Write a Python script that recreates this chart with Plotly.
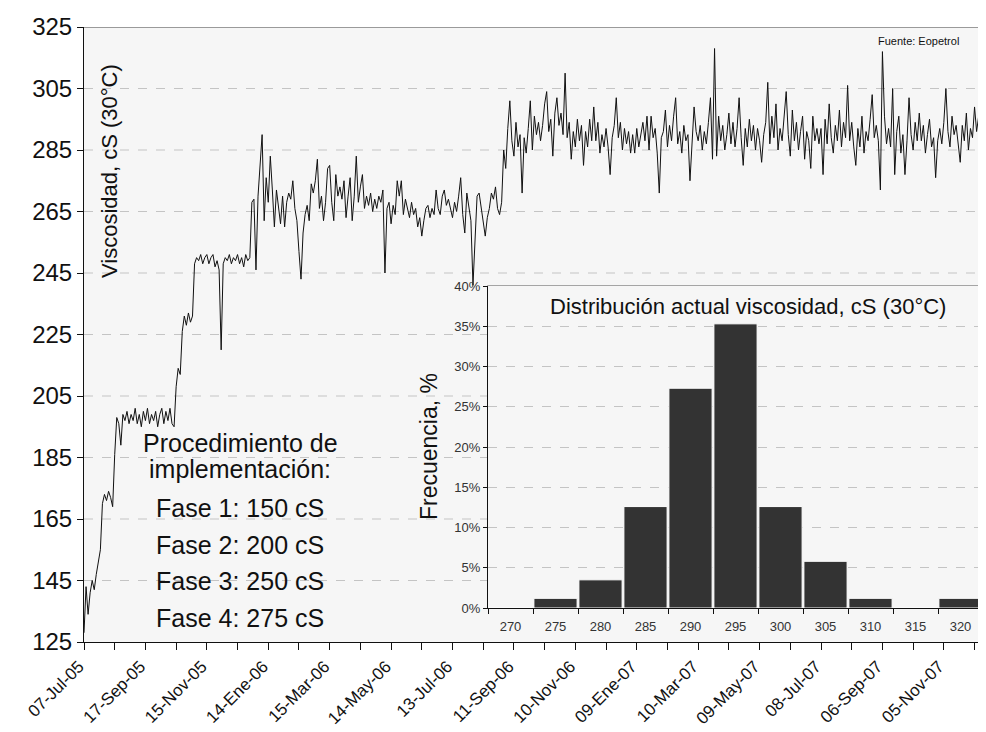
import plotly.graph_objects as go

# ---------------- data ----------------
step = 2  # one reading every 2 days (category positions)
viscosity = [
    128, 143, 134, 141, 145, 142, 147, 151, 155, 170, 173, 171, 174, 172, 169, 186, 198, 196, 189, 199,
    197, 200, 196, 199, 197, 201, 196, 199, 195, 200, 197, 201, 196, 199, 197, 200, 195, 199, 201, 196,
    200, 197, 201, 196, 195, 208, 214, 212, 226, 231, 228, 232, 229, 231, 248, 250, 249, 251, 248, 250,
    251, 248, 250, 251, 247, 249, 246, 220, 248, 250, 249, 251, 248, 250, 249, 251, 248, 250, 247, 251,
    249, 250, 268, 269, 246, 270, 281, 290, 262, 276, 268, 283, 272, 260, 272, 266, 261, 270, 260, 268,
    271, 269, 275, 266, 262, 252, 243, 258, 264, 267, 262, 274, 271, 275, 282, 266, 270, 262, 268, 279,
    280, 268, 262, 277, 270, 273, 269, 275, 263, 270, 276, 262, 270, 283, 268, 273, 277, 266, 270, 267,
    271, 265, 269, 266, 270, 268, 272, 245, 266, 268, 261, 267, 264, 275, 270, 275, 264, 269, 266, 263,
    268, 264, 266, 260, 263, 257, 262, 266, 267, 263, 266, 264, 272, 266, 264, 270, 272, 267, 269, 266,
    263, 268, 265, 270, 276, 264, 258, 271, 266, 262, 241, 258, 270, 271, 266, 262, 257, 263, 266, 271,
    269, 273, 266, 264, 268, 285, 279, 292, 301, 288, 283, 294, 286, 290, 271, 289, 284, 292, 301, 285,
    296, 290, 294, 288, 293, 300, 304, 291, 295, 283, 297, 302, 293, 297, 290, 310, 289, 294, 282, 291,
    286, 295, 288, 293, 280, 291, 286, 295, 288, 299, 288, 294, 284, 290, 286, 292, 286, 277, 289, 293,
    302, 289, 294, 285, 292, 287, 291, 284, 290, 284, 292, 286, 290, 294, 288, 296, 285, 296, 289, 292,
    284, 271, 289, 291, 298, 286, 293, 288, 296, 302, 287, 291, 284, 293, 288, 290, 275, 286, 299, 291,
    288, 293, 285, 291, 287, 294, 302, 282, 318, 283, 296, 288, 293, 285, 290, 297, 287, 294, 286, 292,
    302, 289, 280, 292, 286, 295, 288, 293, 285, 292, 288, 281, 290, 294, 307, 287, 296, 289, 300, 285,
    292, 288, 297, 304, 290, 283, 298, 288, 294, 285, 291, 296, 282, 291, 288, 279, 296, 288, 292, 287,
    292, 277, 295, 287, 300, 289, 284, 293, 288, 298, 286, 294, 289, 306, 288, 294, 286, 280, 292, 286,
    296, 284, 291, 288, 295, 303, 289, 293, 288, 272, 317, 296, 287, 292, 286, 305, 277, 291, 296, 284,
    290, 277, 288, 302, 290, 285, 294, 288, 297, 288, 293, 284, 290, 295, 286, 289, 276, 288, 292, 287,
    294, 305, 291, 286, 296, 290, 293, 286, 281, 293, 288, 297, 285, 292, 289, 299, 291, 296, 302, 289,
    295, 290, 297, 289, 278,
]
date_labels = [
    "07-Jul-05", "17-Sep-05", "15-Nov-05", "14-Ene-06", "15-Mar-06", "14-May-06",
    "13-Jul-06", "11-Sep-06", "10-Nov-06", "09-Ene-07", "10-Mar-07", "09-May-07",
    "08-Jul-07", "06-Sep-07", "05-Nov-07",
]
label_every = 60   # days between date labels
tick_every = 30    # days between tick marks

y_ticks = [125, 145, 165, 185, 205, 225, 245, 265, 285, 305, 325]

hist_bins = ["270", "275", "280", "285", "290", "295", "300", "305", "310", "315", "320"]
hist_freq = [0.0, 0.012, 0.035, 0.126, 0.273, 0.353, 0.126, 0.058, 0.012, 0.0, 0.012]

fase_lines = ["Fase 1: 150 cS", "Fase 2: 200 cS", "Fase 3: 250 cS", "Fase 4: 275 cS"]

# ---------------- figure ----------------
FONT = "Liberation Sans, Arial, sans-serif"
days = [i * step for i in range(len(viscosity))]

tickvals = list(range(0, label_every * (len(date_labels) - 1) + tick_every + 1, tick_every))
ticktext = [date_labels[v // label_every] if v % label_every == 0 else "" for v in tickvals]

fig = go.Figure()
fig.add_trace(go.Scatter(
    x=days, y=viscosity, mode="lines",
    line=dict(color="#111111", width=1), showlegend=False, hoverinfo="skip",
    xaxis="x", yaxis="y",
))
fig.add_trace(go.Bar(
    x=hist_bins, y=hist_freq,
    marker=dict(color="#333333", line=dict(color="#ffffff", width=1)),
    showlegend=False, xaxis="x2", yaxis="y2",
))

W, H = 986, 732
ml, mr, mt, mb = 76, 0, 19, 98
pw, ph = W - ml - mr, H - mt - mb
ix0, ix1 = (480 - ml) / pw, (975 - ml) / pw
iy0, iy1 = 1 - (600 - mt) / ph, 1 - (278 - mt) / ph


def px(x):
    return (x - ml) / pw


def py(y):
    return 1 - (y - mt) / ph


shapes = []
for v in y_ticks[1:-1]:
    shapes.append(dict(type="line", xref="x domain", yref="y", x0=0, x1=1, y0=v, y1=v,
                       line=dict(color="#c4c4c4", width=1, dash="dash"), layer="below"))
shapes.append(dict(type="line", xref="x domain", yref="y", x0=0, x1=1, y0=325, y1=325,
                   line=dict(color="#9a9a9a", width=2), layer="below"))
shapes.append(dict(type="rect", xref="paper", yref="paper", x0=ix0, x1=ix1, y0=iy0, y1=iy1,
                   fillcolor="#ffffff", line=dict(color="#8a8a8a", width=1.5), layer="below"))


def note(text, x, y, size, angle=0):
    return dict(text=text, xref="paper", yref="paper", x=px(x), y=py(y),
                xanchor="center", yanchor="middle", textangle=angle, showarrow=False,
                font=dict(size=size, color="#111111", family=FONT))


annotations = [
    note("Viscosidad, cS (30°C)", 101, 163, 22, -90),
    note("Fuente: Eopetrol", 910, 33, 11),
    note("Distribución actual viscosidad, cS (30°C)", 740, 298, 22),
    note("Frecuencia, %", 421, 439, 23, -90),
    note("Procedimiento de", 232, 435, 25),
    note("implementación:", 232, 461, 25),
]
for k, t in enumerate(fase_lines):
    annotations.append(note(t, 232, 500 + 36.7 * k, 25))

fig.update_layout(
    width=W, height=H,
    margin=dict(l=ml, r=mr, t=mt, b=mb),
    paper_bgcolor="#ffffff", plot_bgcolor="#f6f6f6",
    font=dict(family=FONT, color="#111111"),
    bargap=0.04,
    shapes=shapes, annotations=annotations,
    xaxis=dict(range=[0, 889], tickmode="array", tickvals=tickvals, ticktext=ticktext,
               tickangle=-45, ticks="outside", ticklen=7, tickcolor="#111111",
               ticklabelshift=-5,
               showline=True, linecolor="#111111", linewidth=1, showgrid=False, zeroline=False,
               tickfont=dict(size=17, family=FONT, color="#111111")),
    yaxis=dict(range=[125, 325], tickmode="array", tickvals=y_ticks,
               ticks="outside", ticklen=6, tickcolor="#111111",
               showline=True, linecolor="#111111", linewidth=1, showgrid=False, zeroline=False,
               tickfont=dict(size=24, family=FONT, color="#111111")),
    xaxis2=dict(domain=[ix0, ix1], anchor="y2", type="category", tickson="boundaries",
                ticks="outside", ticklen=5, tickcolor="#111111", ticklabelstandoff=6,
                showline=True, linecolor="#111111", linewidth=1, showgrid=False,
                tickfont=dict(size=13, family=FONT, color="#333333")),
    yaxis2=dict(domain=[iy0, iy1], anchor="x2", range=[0, 0.40], dtick=0.05, tickformat=".0%",
                ticks="outside", ticklen=4, tickcolor="#111111",
                showline=True, linecolor="#111111", linewidth=1,
                showgrid=True, gridcolor="#c4c4c4", griddash="dash", zeroline=False,
                tickfont=dict(size=13, family=FONT, color="#333333")),
)

fig.write_html("out.html")
